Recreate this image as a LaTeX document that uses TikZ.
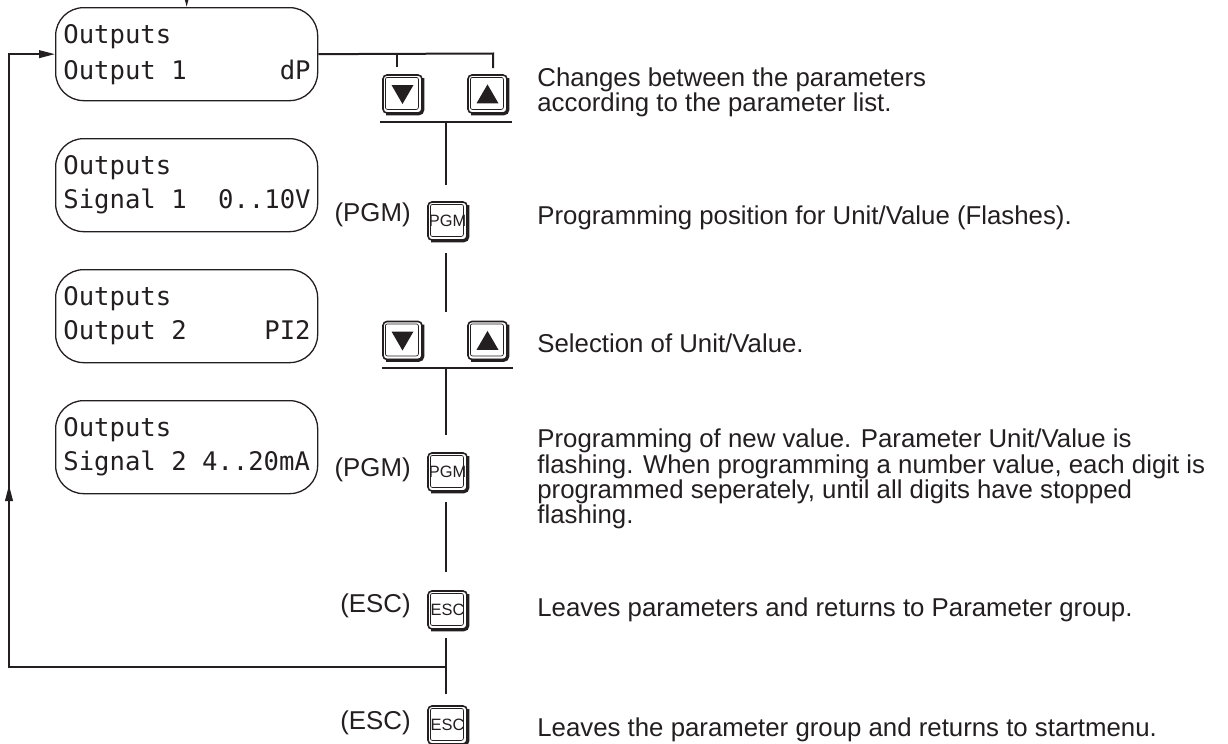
\documentclass[tikz,border=0pt]{standalone}
\usepackage{fontspec}
\setmainfont{Liberation Sans}
\newfontfamily\lcdfont{DejaVu Sans Mono}
\usetikzlibrary{arrows.meta}
\definecolor{ink}{HTML}{231F20}
\tikzset{
  lcd/.style={draw=ink, line width=0.65pt, rounded corners=14pt, minimum width=131pt, minimum height=46.5pt, inner sep=0pt, anchor=north west},
  lcdtxt/.style={font=\lcdfont\fontsize{12.8}{14}\selectfont, inner sep=0pt, text=ink},
  conn/.style={draw=ink, line width=1pt},
  arr/.style={conn, -{Triangle[length=8pt,width=3.8pt]}},
  desc/.style={font=\fontsize{12.9}{12.6}\selectfont, inner sep=0pt, anchor=west, align=left, text=ink},
  klabel/.style={font=\fontsize{12.9}{14}\selectfont, inner sep=0pt, anchor=east, text=ink},
  keyouter/.style={draw=ink, fill=white, line width=0.8pt, rounded corners=2pt, minimum width=19.5pt, minimum height=19pt, inner sep=0pt},
  keytxt/.style={font=\fontsize{8.2}{9}\selectfont, inner sep=0pt, text=ink},
}
\newcommand\kbkey[3]{%
  \node[keyouter] (#1) at (#2,#3) {};
  \draw[ink, line width=1.5pt, rounded corners=2pt] ([xshift=2pt]#1.south west) -- (#1.south east) -- ([yshift=-2pt]#1.north east);
  \draw[ink, line width=0.35pt, rounded corners=1pt] ([shift={(1.6pt,-1.6pt)}]#1.north west) rectangle ([shift={(-2.2pt,2.2pt)}]#1.south east);
}
\newcommand\kbdown[1]{\fill[ink] ([shift={(-5.5pt,4.5pt)}]#1.center) -- ([shift={(5.5pt,4.5pt)}]#1.center) -- ([shift={(0pt,-5pt)}]#1.center) -- cycle;}
\newcommand\kbup[1]{\fill[ink] ([shift={(-5.5pt,-4.7pt)}]#1.center) -- ([shift={(5.5pt,-4.7pt)}]#1.center) -- ([shift={(0pt,4.8pt)}]#1.center) -- cycle;}
\begin{document}
\begin{tikzpicture}[x=0.5pt, y=-0.5pt]
\useasboundingbox (0,0) rectangle (1228,744);

% display boxes
\node[lcd] (b1) at (55,7) {};
\node[lcd] (b2) at (55,138) {};
\node[lcd] (b3) at (55,269) {};
\node[lcd] (b4) at (55,400) {};

\node[lcdtxt, anchor=base west] (b1t1) at (63,43) {Outputs};
\node[lcdtxt, anchor=base west] (b1t2) at (63,79) {Output 1};
\node[lcdtxt, anchor=base east] (b1t3) at (311,79) {dP};

\node[lcdtxt, anchor=base west] (b2t1) at (63,174) {Outputs};
\node[lcdtxt, anchor=base west] (b2t2) at (63,208) {Signal 1};
\node[lcdtxt, anchor=base east] (b2t3) at (311,208) {0..10V};

\node[lcdtxt, anchor=base west] (b3t1) at (63,305) {Outputs};
\node[lcdtxt, anchor=base west] (b3t2) at (63,339) {Output 2};
\node[lcdtxt, anchor=base east] (b3t3) at (311,339) {PI2};

\node[lcdtxt, anchor=base west] (b4t1) at (63,436) {Outputs};
\node[lcdtxt, anchor=base west] (b4t2) at (63,470) {Signal 2 4..20mA};

% keys
\kbkey{kd1}{402.5}{94}\kbdown{kd1}
\kbkey{ku1}{487.5}{94}\kbup{ku1}
\kbkey{pgm1}{447.5}{221}\node[keytxt] (pgm1t) at (pgm1) {PGM};
\kbkey{kd2}{402.5}{340.5}\kbdown{kd2}
\kbkey{ku2}{487.5}{340.5}\kbup{ku2}
\kbkey{pgm2}{447.5}{472}\node[keytxt] (pgm2t) at (pgm2) {PGM};
\kbkey{esc1}{447.5}{610}\node[keytxt] (esc1t) at (esc1) {ESC};
\kbkey{esc2}{447.5}{725}\node[keytxt] (esc2t) at (esc2) {ESC};

% key labels
\node[klabel] (l1) at (411,215) {(PGM)};
\node[klabel] (l2) at (411,470) {(PGM)};
\node[klabel] (l3) at (411,606) {(ESC)};
\node[klabel] (l4) at (411,723) {(ESC)};

% descriptions
\node[desc] (d1) at (537,92) {Changes between the parameters\\according to the parameter list.};
\node[desc] (d2) at (537,218) {Programming position for Unit/Value (Flashes).};
\node[desc] (d3) at (537,343) {Selection of Unit/Value.};
\node[desc] (d4) at (537,479) {Programming of new value. Parameter Unit/Value is\\flashing. When programming a number value, each digit is\\programmed seperately, until all digits have stopped\\flashing.};
\node[desc] (d5) at (537,610) {Leaves parameters and returns to Parameter group.};
\node[desc] (d6) at (537,730) {Leaves the parameter group and returns to startmenu.};

% connectors
\coordinate (tl) at (397,53.5);
\coordinate (tr) at (493,53.5);
\draw[conn] (b1.east) -- (tr) -- ++(0,14.5);
\draw[conn] (tl) -- ++(0,13.5);
\draw[arr] ([yshift=6pt]b1.north) -- (b1.north);

\coordinate (h1l) at (380,122);
\coordinate (h1r) at (512,122);
\coordinate (j1) at (446,122);
\draw[conn] (h1l) -- (h1r);
\coordinate (v1) at (446,185);
\draw[conn] (j1) -- (v1);
\coordinate (v2a) at (446,253);
\coordinate (v2b) at (446,312);
\draw[conn] (v2a) -- (v2b);
\coordinate (h2l) at (382,368);
\coordinate (h2r) at (513,368);
\coordinate (j2) at (446,368);
\draw[conn] (h2l) -- (h2r);
\coordinate (v3) at (446,435);
\draw[conn] (j2) -- (v3);
\coordinate (v4a) at (446,502);
\coordinate (v4b) at (446,572);
\draw[conn] (v4a) -- (v4b);
\coordinate (v5a) at (446,638);
\coordinate (v5b) at (446,694);
\draw[conn] (v5a) -- (v5b);
\coordinate (j3) at (446,667);
\coordinate (up) at (9,485);
\coordinate (up2) at (9,492);
\draw[arr] (j3) -| (up);
\draw[arr] (up2) |- (b1.west);
\end{tikzpicture}
\end{document}
